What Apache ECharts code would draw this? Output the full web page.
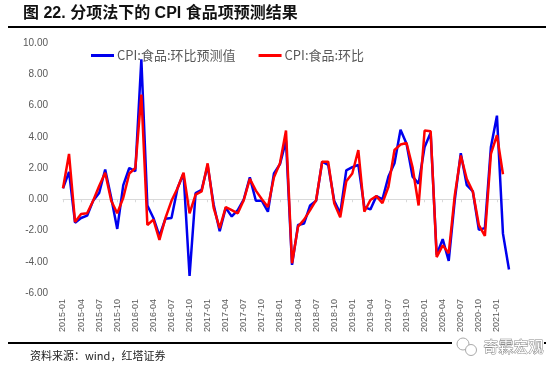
<!DOCTYPE html>
<html><head><meta charset="utf-8">
<script src="https://cdn.jsdelivr.net/npm/echarts@6/dist/echarts.min.js"></script>
<style>html,body{margin:0;padding:0;background:#fff;}#c{width:554px;height:372px;}</style>
</head><body><div id="c"></div>
<script>
var months = [];
(function(){for (var y = 2015; y <= 2021; y++) for (var m = 1; m <= 12; m++) { if (y === 2021 && m > 3) break; months.push(y + '-' + (m < 10 ? '0' + m : m)); }})();
var forecast = [0.7,1.75,-1.5,-1.2,-1.05,-0.1,0.4,1.9,0.1,-1.9,0.9,2.0,1.8,8.95,-0.4,-1.2,-2.35,-1.25,-1.2,0.7,1.65,-4.9,0.4,0.6,2.15,-0.35,-2.05,-0.55,-1.1,-0.7,0.0,1.4,-0.1,-0.1,-0.8,1.65,2.25,3.75,-4.2,-1.65,-1.55,-0.4,-0.1,2.4,2.2,-0.1,-0.9,1.85,2.05,2.2,-0.5,-0.65,0.2,0.0,1.45,2.3,4.45,3.55,1.45,1.0,3.35,4.25,-3.55,-2.55,-3.95,-0.05,2.95,0.9,0.5,-1.95,-1.85,3.35,5.35,-2.2,-4.5];
var actual = [0.7,2.9,-1.45,-0.95,-0.9,-0.1,0.85,1.7,-0.1,-0.9,0.1,1.65,2.0,6.7,-1.65,-1.3,-2.6,-1.2,-0.1,0.7,1.7,-0.9,0.3,0.5,2.3,-0.55,-1.85,-0.5,-0.7,-0.9,-0.05,1.3,0.55,0.0,-0.5,1.4,2.3,4.4,-4.1,-1.75,-1.3,-0.7,-0.05,2.4,2.4,-0.25,-1.15,1.15,1.65,3.15,-0.8,-0.05,0.2,-0.25,0.8,3.15,3.5,3.6,2.05,-0.4,4.4,4.35,-3.7,-2.95,-3.45,0.25,2.8,1.3,0.5,-1.65,-2.35,2.9,4.1,1.6,null];
var seriesNames = ['CPI:食品:环比预测值', 'CPI:食品:环比'];
var titleText = '图 22. 分项法下的 CPI 食品项预测结果';
var sourceText = '资料来源：wind，红塔证券';

var chart = echarts.init(document.getElementById('c'), null, {renderer: 'canvas'});
var latin = '"Liberation Sans", Arial, "Noto Sans CJK SC", sans-serif';
chart.setOption({
  animation: false,
  backgroundColor: '#fff',
  grid: {left: 63, right: 45, top: 43, bottom: 79, containLabel: false},
  legend: {
    left: 86, top: 44, itemGap: 23, itemWidth: 23, itemHeight: 3, icon: 'rect',
    textStyle: {fontSize: 13, color: '#595959', fontFamily: '"Noto Sans CJK SC", sans-serif', padding: [0, 0, 0, -2]},
    data: seriesNames
  },
  xAxis: [{
    type: 'category', data: months, boundaryGap: false, position: 'bottom',
    axisLine: {show: false, onZero: false}, axisTick: {show: false},
    axisLabel: {interval: 2, rotate: 90, fontSize: 9, color: '#595959', fontFamily: latin, margin: 6}
  }, {
    type: 'category', data: months, boundaryGap: false, position: 'bottom',
    axisLine: {show: true, onZero: true, lineStyle: {color: '#d9d9d9', width: 1}},
    axisTick: {show: true, interval: 2, length: 3, lineStyle: {color: '#d9d9d9'}},
    axisLabel: {show: false}
  }],
  yAxis: {
    type: 'value', min: -6, max: 10, interval: 2,
    axisLine: {show: false}, axisTick: {show: false}, splitLine: {show: false},
    axisLabel: {formatter: function (v) { return v.toFixed(2); }, fontSize: 10, color: '#595959', fontFamily: latin, margin: 15}
  },
  series: [{
    name: seriesNames[0], type: 'line', data: forecast, xAxisIndex: 0, showSymbol: false, symbol: 'none',
    lineStyle: {color: '#0000ee', width: 2.5}, itemStyle: {color: '#0000ee'}
  }, {
    name: seriesNames[1], type: 'line', data: actual, xAxisIndex: 0, showSymbol: false, symbol: 'none',
    lineStyle: {color: '#ff0000', width: 2.5}, itemStyle: {color: '#ff0000'}
  }],
  graphic: [
    {type: 'text', left: 23, top: 6, style: {text: titleText, fontSize: 16, fontWeight: 'bold', fill: '#111', fontFamily: '"Liberation Sans", "Noto Sans CJK SC", sans-serif'}},
    {type: 'rect', shape: {x: 8, y: 26, width: 538, height: 2}, style: {fill: '#000'}},
    {type: 'rect', shape: {x: 8, y: 342, width: 538, height: 2}, style: {fill: '#000'}},
    {type: 'text', left: 30, top: 350, style: {text: sourceText, fontSize: 11, fill: '#222', fontFamily: '"Noto Sans CJK SC", sans-serif'}},
    {type: 'rect', shape: {x: 452, y: 336, width: 92, height: 22}, style: {fill: '#fff'}},
    {type: 'circle', shape: {cx: 463, cy: 344, r: 6}, style: {fill: '#fff', stroke: '#aaa', lineWidth: 1}},
    {type: 'circle', shape: {cx: 471, cy: 350, r: 5.5}, style: {fill: '#fff', stroke: '#aaa', lineWidth: 1}},
    {type: 'text', left: 483, top: 338, style: {text: '奇霖宏观', fontSize: 15, fill: '#fff', stroke: '#888', lineWidth: 1, fontFamily: '"Noto Sans CJK SC", sans-serif'}}
  ]
});
</script></body></html>
